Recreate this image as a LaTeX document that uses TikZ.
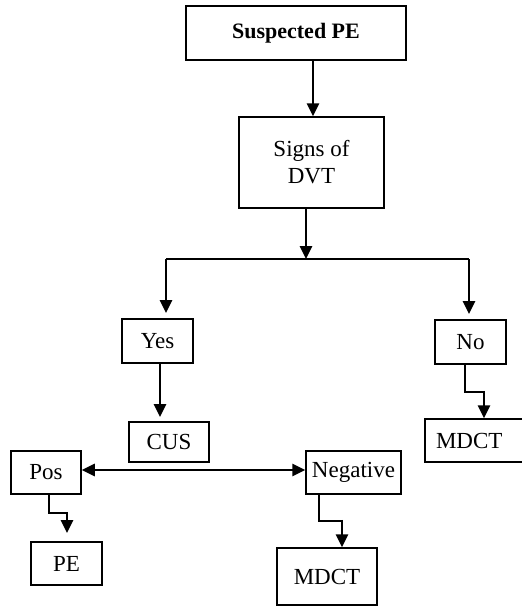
\documentclass[tikz,border=0pt]{standalone}
\usepackage{fontspec}
\setmainfont{Liberation Serif}
\usetikzlibrary{arrows.meta,calc}
\begin{document}
\begin{tikzpicture}[x=1pt,y=-1pt,
  box/.style={draw,line width=1.5pt,inner sep=0pt,align=center,font=\fontsize{23}{27}\selectfont},
  arr/.style={line width=2.8pt,-{Triangle[width=12pt,length=13pt]}},
  plain/.style={line width=1.5pt},
  dbl/.style={line width=2.8pt,{Triangle[width=12pt,length=13pt]}-{Triangle[width=12pt,length=13pt]}}]
\useasboundingbox (0,0) rectangle (522,606);
\begin{scope}
\clip (0,0) rectangle (522,606);
\node[box,minimum width=220pt,minimum height=54pt,font=\fontsize{22}{27}\selectfont\bfseries] (sp) at (296,33) {Suspected PE};
\node[box,minimum width=145pt,minimum height=91pt] (signs) at (311.5,162.5) {Signs of\\DVT};
\node[box,minimum width=71pt,minimum height=44pt] (yes) at (157.5,341) {Yes};
\node[box,minimum width=71pt,minimum height=44pt] (no) at (470.5,342) {No};
\node[box,minimum width=80pt,minimum height=40pt] (cus) at (169,442) {CUS};
\node[box,minimum width=98pt,minimum height=43pt,text width=98pt,align=left] (mdr) at (474,440.5) {\hspace*{11pt}MDCT};
\node[box,minimum width=70pt,minimum height=43pt] (pos) at (46,472.5) {Pos};
\node[box,minimum width=95pt,minimum height=43pt] (neg) at (353.5,472.5) {Negative};
\node[box,minimum width=71pt,minimum height=43pt] (pe) at (66.5,563.5) {PE};
\node[box,minimum width=100pt,minimum height=57pt] (mdb) at (327,576.5) {MDCT};
\coordinate (j) at (306,259);
\coordinate (jl) at (166,259);
\coordinate (jr) at (469,259);
\draw[arr] (sp.south -| 313,0) -- (signs.north -| 313,0);
\draw[arr] (signs.south -| j) -- (j);
\draw[plain] (jl) -- (jr);
\draw[arr] (jl) -- (166,313);
\draw[arr] (jr) -- (469,314);
\draw[arr] (yes.south -| 160,0) -- (160,417);
\draw[plain] (no.south -| 465,0) -- (465,392) -- (484,392);
\draw[arr] (484,390.8) -- (mdr.north -| 484,0);
\draw[dbl] (pos.east |- 0,470) -- (neg.west |- 0,470);
\draw[plain] (pos.south -| 49,0) -- (49,513) -- (67,513);
\draw[arr] (67,511.8) -- (67,533);
\draw[plain] (neg.south -| 319,0) -- (319,521) -- (342,521);
\draw[arr] (342,519.8) -- (mdb.north -| 342,0);
\end{scope}
\end{tikzpicture}
\end{document}
